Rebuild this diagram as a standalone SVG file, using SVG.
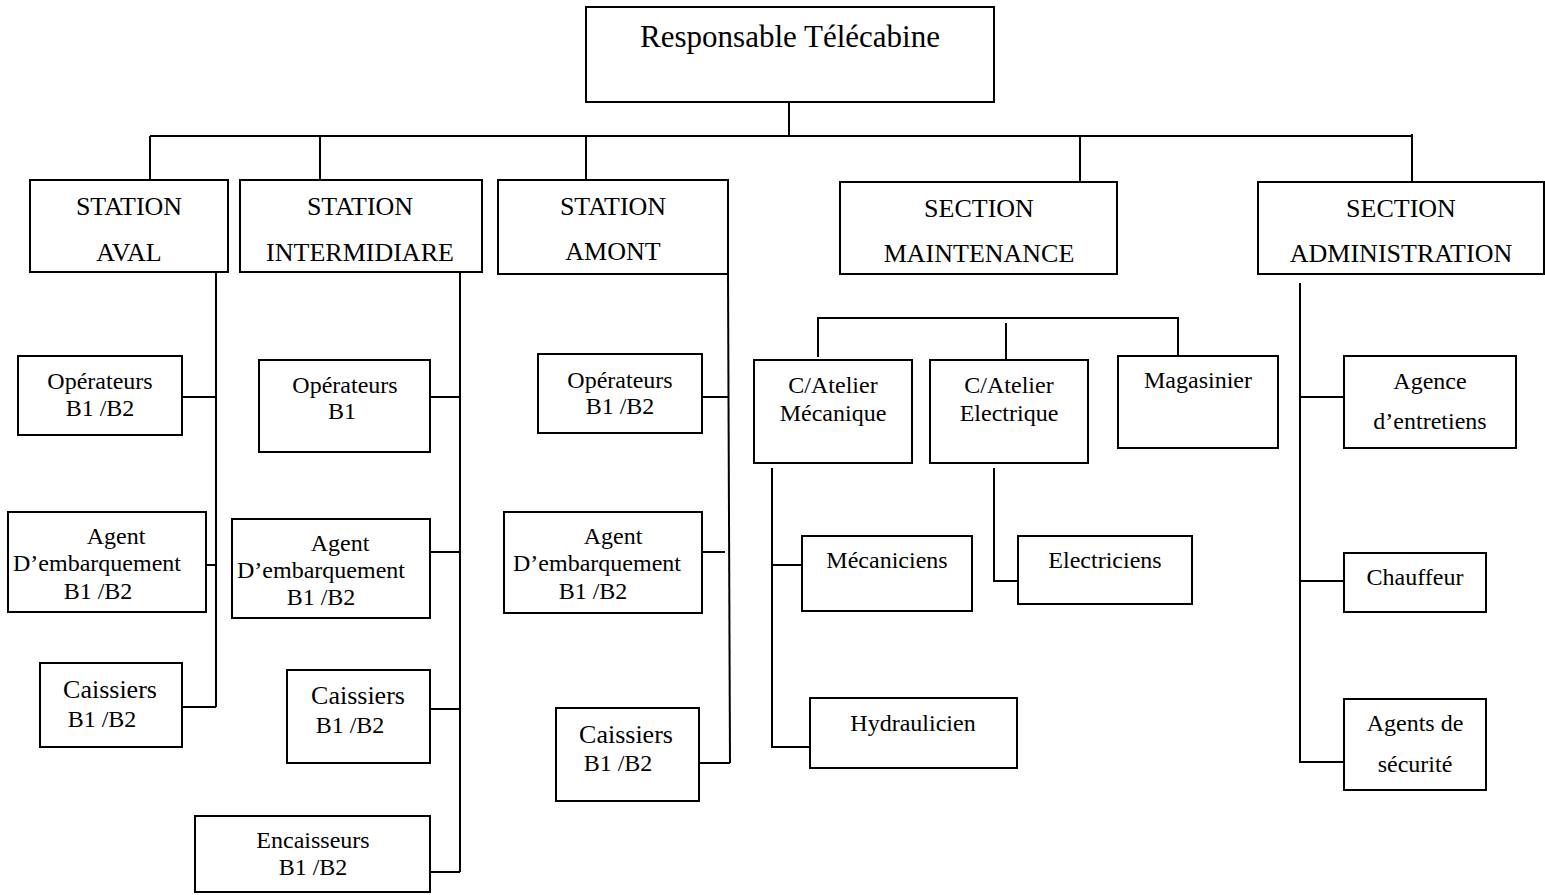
<svg xmlns="http://www.w3.org/2000/svg" width="1545" height="895" viewBox="0 0 1545 895">
  <style>
    .box { fill: #ffffff; stroke: #000000; stroke-width: 2; }
    .wire { fill: none; stroke: #000000; stroke-width: 2; }
    text { font-family: "Liberation Serif", "Times New Roman", serif; fill: #000000; text-anchor: middle; }
    .t24 { font-size: 24px; }
    .t26 { font-size: 26px; }
    .t31 { font-size: 31px; }
  </style>
  <rect width="1545" height="895" fill="#ffffff"/>

  <!-- connectors -->
  <g id="connectors" class="wire">
    <!-- top level -->
    <line x1="789" y1="102" x2="789" y2="136"/>
    <line x1="150" y1="136" x2="1412" y2="136"/>
    <line x1="150" y1="136" x2="150" y2="180"/>
    <line x1="320" y1="136" x2="320" y2="180"/>
    <line x1="586" y1="136" x2="586" y2="180"/>
    <line x1="1080" y1="136" x2="1080" y2="182"/>
    <line x1="1412" y1="134" x2="1412" y2="182"/>
    <!-- station aval -->
    <line x1="216" y1="272" x2="216" y2="707"/>
    <line x1="182" y1="397" x2="216" y2="397"/>
    <line x1="206" y1="565" x2="216" y2="565"/>
    <line x1="182" y1="707" x2="216" y2="707"/>
    <!-- station intermidiare -->
    <line x1="460" y1="273" x2="460" y2="872"/>
    <line x1="430" y1="397" x2="460" y2="397"/>
    <line x1="430" y1="552" x2="460" y2="552"/>
    <line x1="430" y1="709" x2="460" y2="709"/>
    <line x1="430" y1="872" x2="460" y2="872"/>
    <!-- station amont -->
    <line x1="728" y1="274" x2="730" y2="763"/>
    <line x1="702" y1="397" x2="728" y2="397"/>
    <line x1="702" y1="552" x2="725" y2="552"/>
    <line x1="699" y1="763" x2="730" y2="763"/>
    <!-- section maintenance -->
    <polyline points="818,357 818,318 1178,318 1178,356"/>
    <line x1="1006" y1="323" x2="1006" y2="360"/>
    <polyline points="772,468 772,747 810,747"/>
    <line x1="772" y1="565" x2="802" y2="565"/>
    <polyline points="994,468 994,581 1018,581"/>
    <!-- section administration -->
    <polyline points="1300,283 1300,762 1344,762"/>
    <line x1="1300" y1="397" x2="1344" y2="397"/>
    <line x1="1300" y1="581" x2="1344" y2="581"/>
  </g>

  <!-- head -->
  <g id="responsable">
    <rect class="box" x="586" y="7" width="408" height="95"/>
    <text class="t31" x="790" y="47">Responsable Télécabine</text>
  </g>

  <!-- first level -->
  <g id="station-aval">
    <rect class="box" x="30" y="180" width="198" height="92"/>
    <text class="t26" x="129" y="215">STATION</text>
    <text class="t26" x="129" y="261">AVAL</text>
  </g>
  <g id="station-intermidiare">
    <rect class="box" x="240" y="180" width="242" height="92"/>
    <text class="t26" x="360" y="215">STATION</text>
    <text class="t26" x="360" y="261">INTERMIDIARE</text>
  </g>
  <g id="station-amont">
    <rect class="box" x="498" y="180" width="230" height="94"/>
    <text class="t26" x="613" y="215">STATION</text>
    <text class="t26" x="613" y="260">AMONT</text>
  </g>
  <g id="section-maintenance">
    <rect class="box" x="840" y="182" width="277" height="92"/>
    <text class="t26" x="979" y="217">SECTION</text>
    <text class="t26" x="979" y="262">MAINTENANCE</text>
  </g>
  <g id="section-administration">
    <rect class="box" x="1258" y="182" width="286" height="92"/>
    <text class="t26" x="1401" y="217">SECTION</text>
    <text class="t26" x="1401" y="262">ADMINISTRATION</text>
  </g>

  <!-- station aval staff -->
  <g id="aval-operateurs">
    <rect class="box" x="18" y="356" width="164" height="79"/>
    <text class="t24" x="100" y="389">Opérateurs</text>
    <text class="t24" x="100" y="416">B1 /B2</text>
  </g>
  <g id="aval-agent">
    <rect class="box" x="8" y="512" width="198" height="100"/>
    <text class="t24" x="116" y="544">Agent</text>
    <text class="t24" x="97" y="571">D’embarquement</text>
    <text class="t24" x="98" y="599">B1 /B2</text>
  </g>
  <g id="aval-caissiers">
    <rect class="box" x="40" y="663" width="142" height="84"/>
    <text class="t26" x="110" y="698">Caissiers</text>
    <text class="t24" x="102" y="727">B1 /B2</text>
  </g>

  <!-- station intermidiare staff -->
  <g id="inter-operateurs">
    <rect class="box" x="259" y="360" width="171" height="92"/>
    <text class="t24" x="345" y="393">Opérateurs</text>
    <text class="t24" x="342" y="419">B1</text>
  </g>
  <g id="inter-agent">
    <rect class="box" x="232" y="519" width="198" height="99"/>
    <text class="t24" x="340" y="551">Agent</text>
    <text class="t24" x="321" y="578">D’embarquement</text>
    <text class="t24" x="321" y="605">B1 /B2</text>
  </g>
  <g id="inter-caissiers">
    <rect class="box" x="287" y="670" width="143" height="93"/>
    <text class="t26" x="358" y="704">Caissiers</text>
    <text class="t24" x="350" y="733">B1 /B2</text>
  </g>
  <g id="inter-encaisseurs">
    <rect class="box" x="195" y="816" width="235" height="76"/>
    <text class="t24" x="313" y="848">Encaisseurs</text>
    <text class="t24" x="313" y="875">B1 /B2</text>
  </g>

  <!-- station amont staff -->
  <g id="amont-operateurs">
    <rect class="box" x="538" y="354" width="164" height="79"/>
    <text class="t24" x="620" y="388">Opérateurs</text>
    <text class="t24" x="620" y="414">B1 /B2</text>
  </g>
  <g id="amont-agent">
    <rect class="box" x="504" y="512" width="198" height="101"/>
    <text class="t24" x="613" y="544">Agent</text>
    <text class="t24" x="597" y="571">D’embarquement</text>
    <text class="t24" x="593" y="599">B1 /B2</text>
  </g>
  <g id="amont-caissiers">
    <rect class="box" x="556" y="708" width="143" height="93"/>
    <text class="t26" x="626" y="743">Caissiers</text>
    <text class="t24" x="618" y="771">B1 /B2</text>
  </g>

  <!-- maintenance units -->
  <g id="atelier-mecanique">
    <rect class="box" x="754" y="360" width="158" height="103"/>
    <text class="t24" x="833" y="393">C/Atelier</text>
    <text class="t24" x="833" y="421">Mécanique</text>
  </g>
  <g id="atelier-electrique">
    <rect class="box" x="930" y="360" width="158" height="103"/>
    <text class="t24" x="1009" y="393">C/Atelier</text>
    <text class="t24" x="1009" y="421">Electrique</text>
  </g>
  <g id="magasinier">
    <rect class="box" x="1118" y="356" width="160" height="92"/>
    <text class="t24" x="1198" y="388">Magasinier</text>
  </g>
  <g id="mecaniciens">
    <rect class="box" x="802" y="536" width="170" height="75"/>
    <text class="t24" x="887" y="568">Mécaniciens</text>
  </g>
  <g id="hydraulicien">
    <rect class="box" x="810" y="698" width="207" height="70"/>
    <text class="t24" x="913" y="731">Hydraulicien</text>
  </g>
  <g id="electriciens">
    <rect class="box" x="1018" y="536" width="174" height="68"/>
    <text class="t24" x="1105" y="568">Electriciens</text>
  </g>

  <!-- administration units -->
  <g id="agence-entretiens">
    <rect class="box" x="1344" y="356" width="172" height="92"/>
    <text class="t24" x="1430" y="389">Agence</text>
    <text class="t24" x="1430" y="429">d’entretiens</text>
  </g>
  <g id="chauffeur">
    <rect class="box" x="1344" y="553" width="142" height="59"/>
    <text class="t24" x="1415" y="585">Chauffeur</text>
  </g>
  <g id="agents-securite">
    <rect class="box" x="1344" y="699" width="142" height="91"/>
    <text class="t24" x="1415" y="731">Agents de</text>
    <text class="t24" x="1415" y="772">sécurité</text>
  </g>
</svg>
